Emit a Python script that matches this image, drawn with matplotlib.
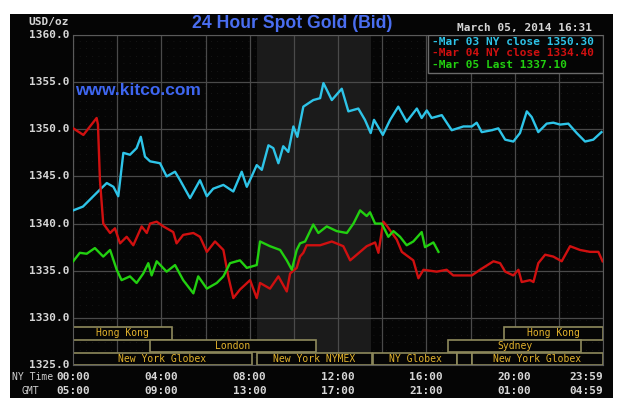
import matplotlib
matplotlib.use("Agg")
import matplotlib.pyplot as plt
from matplotlib.patches import Rectangle
import matplotlib.transforms as mtransforms

# ---------------- data ----------------
cyan_t = [0.01, 0.45, 0.92, 1.22, 1.53, 1.83, 2.05, 2.28, 2.58, 2.88, 3.07, 3.26, 3.49, 3.94,
          4.24, 4.62, 4.85, 5.30, 5.75, 6.06, 6.35, 6.81, 7.26, 7.64, 7.87, 8.09, 8.32, 8.55,
          8.85, 9.07, 9.30, 9.52, 9.75, 9.98, 10.16, 10.43, 10.88, 11.19, 11.34, 11.72, 12.17,
          12.47, 12.92, 13.22, 13.48, 13.63, 14.03, 14.36, 14.73, 15.11, 15.57, 15.79, 16.02,
          16.24, 16.70, 17.15, 17.68, 18.06, 18.28, 18.51, 18.96, 19.26, 19.57, 19.94, 20.24,
          20.55, 20.77, 21.07, 21.45, 21.75, 22.06, 22.43, 22.81, 23.19, 23.56, 23.93]
cyan_v = [1341.4, 1341.8, 1342.9, 1343.6, 1344.3, 1343.9, 1342.9, 1347.5, 1347.3, 1348.0, 1349.2,
          1347.1, 1346.6, 1346.4, 1345.0, 1345.5, 1344.6, 1342.7, 1344.6, 1342.9, 1343.7, 1344.1,
          1343.4, 1345.5, 1343.9, 1345.0, 1346.2, 1345.7, 1348.3, 1348.0, 1346.4, 1348.2, 1347.6,
          1350.3, 1349.2, 1352.4, 1353.1, 1353.3, 1354.9, 1353.1, 1354.3, 1351.9, 1352.2, 1351.0,
          1349.6, 1351.0, 1349.4, 1351.0, 1352.4, 1350.8, 1352.2, 1351.2, 1352.0, 1351.2, 1351.5,
          1349.9, 1350.3, 1350.3, 1350.7, 1349.7, 1349.9, 1350.1, 1348.9, 1348.7, 1349.6, 1351.9,
          1351.3, 1349.7, 1350.6, 1350.7, 1350.5, 1350.6, 1349.6, 1348.7, 1348.9, 1349.7]

red_t = [0.01, 0.47, 0.77, 1.07, 1.13, 1.22, 1.37, 1.68, 1.90, 2.13, 2.43, 2.73, 3.11, 3.34, 3.49,
         3.79, 4.09, 4.54, 4.69, 4.99, 5.45, 5.75, 6.06, 6.43, 6.81, 7.03, 7.26, 7.56, 8.02, 8.32,
         8.47, 8.92, 9.30, 9.68, 9.83, 10.13, 10.28, 10.43, 10.58, 10.88, 11.19, 11.72, 12.24,
         12.55, 13.30, 13.68, 13.83, 14.05, 14.23, 14.66, 14.89, 15.41, 15.64, 15.87, 16.47,
         16.92, 17.22, 18.06, 18.43, 19.04, 19.34, 19.57, 19.94, 20.17, 20.32, 20.70, 20.85,
         21.07, 21.38, 21.75, 22.13, 22.51, 22.96, 23.41, 23.79, 23.98]
red_v = [1350.1, 1349.4, 1350.3, 1351.2, 1350.5, 1344.6, 1340.0, 1339.0, 1339.5, 1337.9, 1338.6,
         1337.7, 1339.7, 1339.0, 1340.0, 1340.2, 1339.7, 1339.1, 1337.9, 1338.8, 1339.0, 1338.6,
         1337.0, 1338.1, 1337.2, 1334.4, 1332.1, 1333.0, 1334.0, 1332.1, 1333.7, 1333.1, 1334.4,
         1332.8, 1334.7, 1335.3, 1336.5, 1336.9, 1337.7, 1337.7, 1337.7, 1338.1, 1337.6, 1336.1,
         1337.6, 1338.0, 1336.9, 1340.2, 1339.7, 1338.3, 1337.0, 1336.1, 1334.2, 1335.1, 1334.9,
         1335.1, 1334.5, 1334.5, 1335.1, 1336.0, 1335.8, 1334.9, 1334.5, 1335.1, 1333.8, 1334.0,
         1333.8, 1335.8, 1336.7, 1336.5, 1336.0, 1337.6, 1337.2, 1337.0, 1337.0, 1336.0]

green_t = [0.01, 0.31, 0.62, 0.99, 1.37, 1.68, 1.98, 2.20, 2.58, 2.88, 3.18, 3.41, 3.56, 3.79,
           4.24, 4.62, 4.99, 5.45, 5.67, 6.06, 6.51, 6.81, 7.11, 7.56, 7.87, 8.32, 8.47, 8.92,
           9.38, 9.68, 9.91, 10.13, 10.28, 10.51, 10.88, 11.11, 11.49, 11.94, 12.40, 12.70,
           13.00, 13.30, 13.45, 13.68, 13.98, 14.28, 14.51, 14.81, 15.11, 15.41, 15.79, 15.94,
           16.32, 16.55]
green_v = [1336.0, 1336.9, 1336.8, 1337.4, 1336.5, 1337.2, 1335.1, 1334.0, 1334.4, 1333.7, 1334.7,
           1335.8, 1334.5, 1336.0, 1334.9, 1335.6, 1334.0, 1332.6, 1334.4, 1333.1, 1333.7, 1334.4,
           1335.8, 1336.1, 1335.3, 1335.6, 1338.1, 1337.6, 1337.2, 1336.1, 1335.1, 1337.2, 1337.9,
           1338.1, 1339.9, 1339.0, 1339.7, 1339.2, 1339.0, 1340.0, 1341.4, 1340.8, 1341.2, 1340.0,
           1340.0, 1338.6, 1339.2, 1338.6, 1337.7, 1338.1, 1339.1, 1337.5, 1338.0, 1337.0]

legend_labels = ["-Mar 03 NY close 1350.30", "-Mar 04 NY close 1334.40", "-Mar 05 Last 1337.10"]
y_ticks = [1325.0, 1330.0, 1335.0, 1340.0, 1345.0, 1350.0, 1355.0, 1360.0]
x_tick_pos = [0, 4, 8, 12, 16, 20, 24]
ny_labels = ["00:00", "04:00", "08:00", "12:00", "16:00", "20:00", "23:59"]
gmt_labels = ["05:00", "09:00", "13:00", "17:00", "21:00", "01:00", "04:59"]

# sessions: (label, row, start hour, end hour) row 0 = top
sessions = [("Hong Kong", 0, 0.0, 4.5), ("Hong Kong", 0, 19.5, 24.0),
            ("London", 1, 3.5, 11.0), ("Sydney", 1, 17.0, 23.0),
            ("New York Globex", 2, 0.0, 8.1), ("New York NYMEX", 2, 8.33, 13.55),
            ("NY Globex", 2, 13.6, 17.4), ("", 2, 17.4, 18.05),
            ("New York Globex", 2, 18.05, 24.0)]

# ---------------- figure ----------------
W, H = 625, 404
fig = plt.figure(figsize=(W / 100, H / 100), dpi=100, facecolor="white")
fig.patches.append(Rectangle((10 / W, 6 / H), 603 / W, 384 / H, transform=fig.transFigure,
                             facecolor="#050505", edgecolor="none", zorder=-10))

ax = fig.add_axes([73 / W, 1 - 365 / H, 530 / W, 330 / H])
ax.set_zorder(1)
ax.set_facecolor("#050505")
ax.set_xlim(0, 24)
ax.set_ylim(1325, 1360)

# dotted texture
for yy in [1325 + i * 0.8 for i in range(1, 44)]:
    ax.axhline(yy, color="#1c1c1c", lw=0.6, ls=(0, (1, 6.5)), zorder=0)

ax.axvspan(8.33, 13.5, color="#1b1b1b", zorder=0.5, lw=0)

for xx in range(0, 25, 2):
    ax.axvline(xx, color="#4a4a4a", lw=0.9, zorder=1)
for yy in y_ticks:
    ax.axhline(yy, color="#4a4a4a", lw=0.9, zorder=1)

for s in ax.spines.values():
    s.set_color("#5a5a5a")
ax.set_xticks([])
ax.set_yticks([])

# sessions
row_bounds = [(1327.7, 1329.0), (1326.35, 1327.6), (1325.0, 1326.25)]
for label, row, a, b in sessions:
    y0, y1 = row_bounds[row]
    ax.add_patch(Rectangle((a, y0), b - a, y1 - y0, facecolor="#050505",
                           edgecolor="#8e8a5c", lw=1.2, zorder=2))
    if label:
        ax.text((a + b) / 2, (y0 + y1) / 2, label, color="#e2b22c", fontsize=7,
                family="DejaVu Sans Mono", ha="center", va="center", zorder=3)

# lines
ax.plot(cyan_t, cyan_v, color="#2ec4e8", lw=1.7, zorder=4)
ax.plot(red_t, red_v, color="#d01010", lw=1.7, zorder=4)
ax.plot(green_t, green_v, color="#22d010", lw=1.7, zorder=4)

# legend box
ax.add_patch(Rectangle((16.08, 1355.95), 24 - 16.08, 1360 - 1355.95, facecolor="#050505",
                       edgecolor="#6a6a6a", lw=1.0, zorder=5))
leg_colors = ["#2ec4e8", "#d01010", "#22d010"]
for i, (lab, c) in enumerate(zip(legend_labels, leg_colors)):
    fig.text(432 / W, 1 - (42 + 11.5 * i) / H, lab, color=c, fontsize=8, fontweight="bold",
             family="DejaVu Sans Mono", ha="left", va="center", zorder=6)

# axis labels
mono = dict(family="DejaVu Sans Mono", fontweight="bold", color="#d6d6d6", fontsize=8)
for v in y_ticks:
    ax.text(-0.18, v, f"{v:.1f}", ha="right", va="center", clip_on=False, **mono)
fig.text(69 / W, 1 - 22 / H, "USD/oz", ha="right", va="center", **mono)
trans = mtransforms.blended_transform_factory(ax.transData, fig.transFigure)
for p, a, b in zip(x_tick_pos, ny_labels, gmt_labels):
    xp = p if p < 24 else 23.25
    ax.text(xp, 1 - 377 / H, a, ha="center", va="center", transform=trans, clip_on=False, **mono)
    ax.text(xp, 1 - 391 / H, b, ha="center", va="center", transform=trans, clip_on=False, **mono)
small = dict(family="DejaVu Sans Mono", color="#d0d0d0", fontsize=7)
fig.text(53 / W, 1 - 377 / H, "NY Time", ha="right", va="center", **small)
fig.text(30 / W, 1 - 391 / H, "GMT", ha="center", va="center", **small)

fig.text(592 / W, 1 - 28 / H, "March 05, 2014 16:31", ha="right", va="center", **mono)

fig.text(292 / W, 1 - 23 / H, "24 Hour Spot Gold (Bid)", ha="center", va="center",
         color="#4a6ef0", fontsize=12.7, fontweight="bold", family="Liberation Sans")
ax.text(0.1, 1354.1, "www.kitco.com", ha="left", va="center", color="#3e66f0",
        fontsize=12.5, fontweight="bold", family="Liberation Sans", zorder=6)

fig.savefig("out.png", dpi=100, facecolor="white")
